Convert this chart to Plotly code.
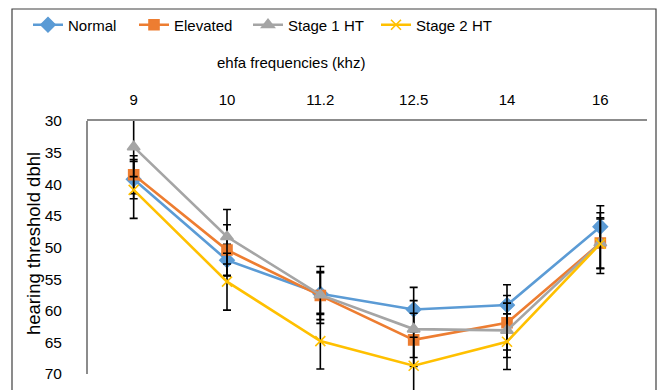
import plotly.graph_objects as go

freqs = ['9', '10', '11.2', '12.5', '14', '16']
normal = [39.2, 52.0, 57.3, 59.8, 59.1, 46.7]
normal_err = [3.1, 2.5, 3.3, 3.5, 3.2, 3.3]
elevated = [38.5, 50.4, 57.6, 64.6, 61.9, 49.3]
elevated_err = [3.0, 4.0, 3.8, 4.2, 4.3, 4.0]
stage1 = [34.1, 48.3, 57.5, 62.9, 63.1, 49.3]
stage1_err = [4.7, 4.3, 4.5, 4.5, 4.3, 4.8]
stage2 = [40.9, 55.4, 64.8, 68.7, 64.9, 49.4]
stage2_err = [4.5, 4.5, 4.4, 4.5, 4.4, 3.9]
y_ticks = [30, 35, 40, 45, 50, 55, 60, 65, 70]

series = [
    ('Normal', normal, normal_err, '#5B9BD5', 'diamond', 11, 'legend', 28),
    ('Elevated', elevated, elevated_err, '#ED7D31', 'square', 10, 'legend2', 134),
    ('Stage 1 HT', stage1, stage1_err, '#A5A5A5', 'triangle-up', 11, 'legend3', 248),
    ('Stage 2 HT', stage2, stage2_err, '#FFC000', 'x-thin', 10, 'legend4', 376),
]

FONT = 'Liberation Sans, Arial, sans-serif'
FS = 15
def F(size=FS):
    return dict(family=FONT, size=size, color='#000000')

L, R, T, B = 87, 12, 121, 0
W, H = 659, 390
Y0, Y1 = 30, 70
axis_bottom_px = 374
upp = (Y1 - Y0) / (axis_bottom_px - T)
ymax = Y0 + (H - B - T) * upp
ph = H - T - B
pw = W - L - R

def px_x(p):
    return (p - L) / pw

def px_y(p):
    return (H - B - p) / ph

fig = go.Figure()
legends = {}
for name, vals, errs, col, sym, sz, leg, lx in series:
    fig.add_trace(go.Scatter(
        x=freqs, y=vals, name=name, mode='lines+markers',
        line=dict(color=col, width=2.6),
        marker=dict(symbol=sym, size=sz, color=col,
                    line=dict(color=col, width=1.6)),
        error_y=dict(type='data', array=errs, visible=True,
                     color='#000000', thickness=1.6, width=4),
        cliponaxis=False, legend=leg,
    ))
    legends[leg] = dict(orientation='h', x=px_x(lx), y=px_y(25), xanchor='left',
                        yanchor='middle', font=F(), itemwidth=30,
                        bgcolor='rgba(0,0,0,0)')

fig.update_layout(
    width=W, height=H,
    margin=dict(l=L, r=R, t=T, b=B, pad=0),
    paper_bgcolor='white', plot_bgcolor='white',
    font=F(),
    showlegend=True,
    xaxis=dict(type='category', categoryorder='array', categoryarray=freqs,
               side='top', range=[-0.5, 5.5], showgrid=False,
               showline=True, linecolor='#8c8c8c', linewidth=2,
               ticks='', ticklabelstandoff=8, tickfont=F()),
    yaxis=dict(range=[ymax, Y0], tickvals=y_ticks, showgrid=False,
               showline=False, ticks='', ticklabelstandoff=24, zeroline=False,
               tickfont=F(15.5)),
    annotations=[
        dict(text='ehfa frequencies (khz)', xref='paper', yref='paper',
             x=px_x(290.5), y=px_y(62), xanchor='center', yanchor='middle',
             showarrow=False, font=F()),
        dict(text='hearing threshold dbhl', xref='paper', yref='paper',
             x=px_x(33), y=px_y(244), xanchor='center', yanchor='middle',
             textangle=-90, showarrow=False, font=F(18.5)),
    ],
    shapes=[
        dict(type='rect', xref='paper', yref='paper',
             x0=px_x(12), x1=px_x(656), y0=px_y(420), y1=px_y(9),
             line=dict(color='#404040', width=1.2), layer='below'),
        dict(type='line', xref='paper', yref='y', x0=0, x1=0, y0=Y0, y1=Y1,
             line=dict(color='#8c8c8c', width=2), layer='below'),
    ],
    **legends,
)

fig.write_html('out.html')
